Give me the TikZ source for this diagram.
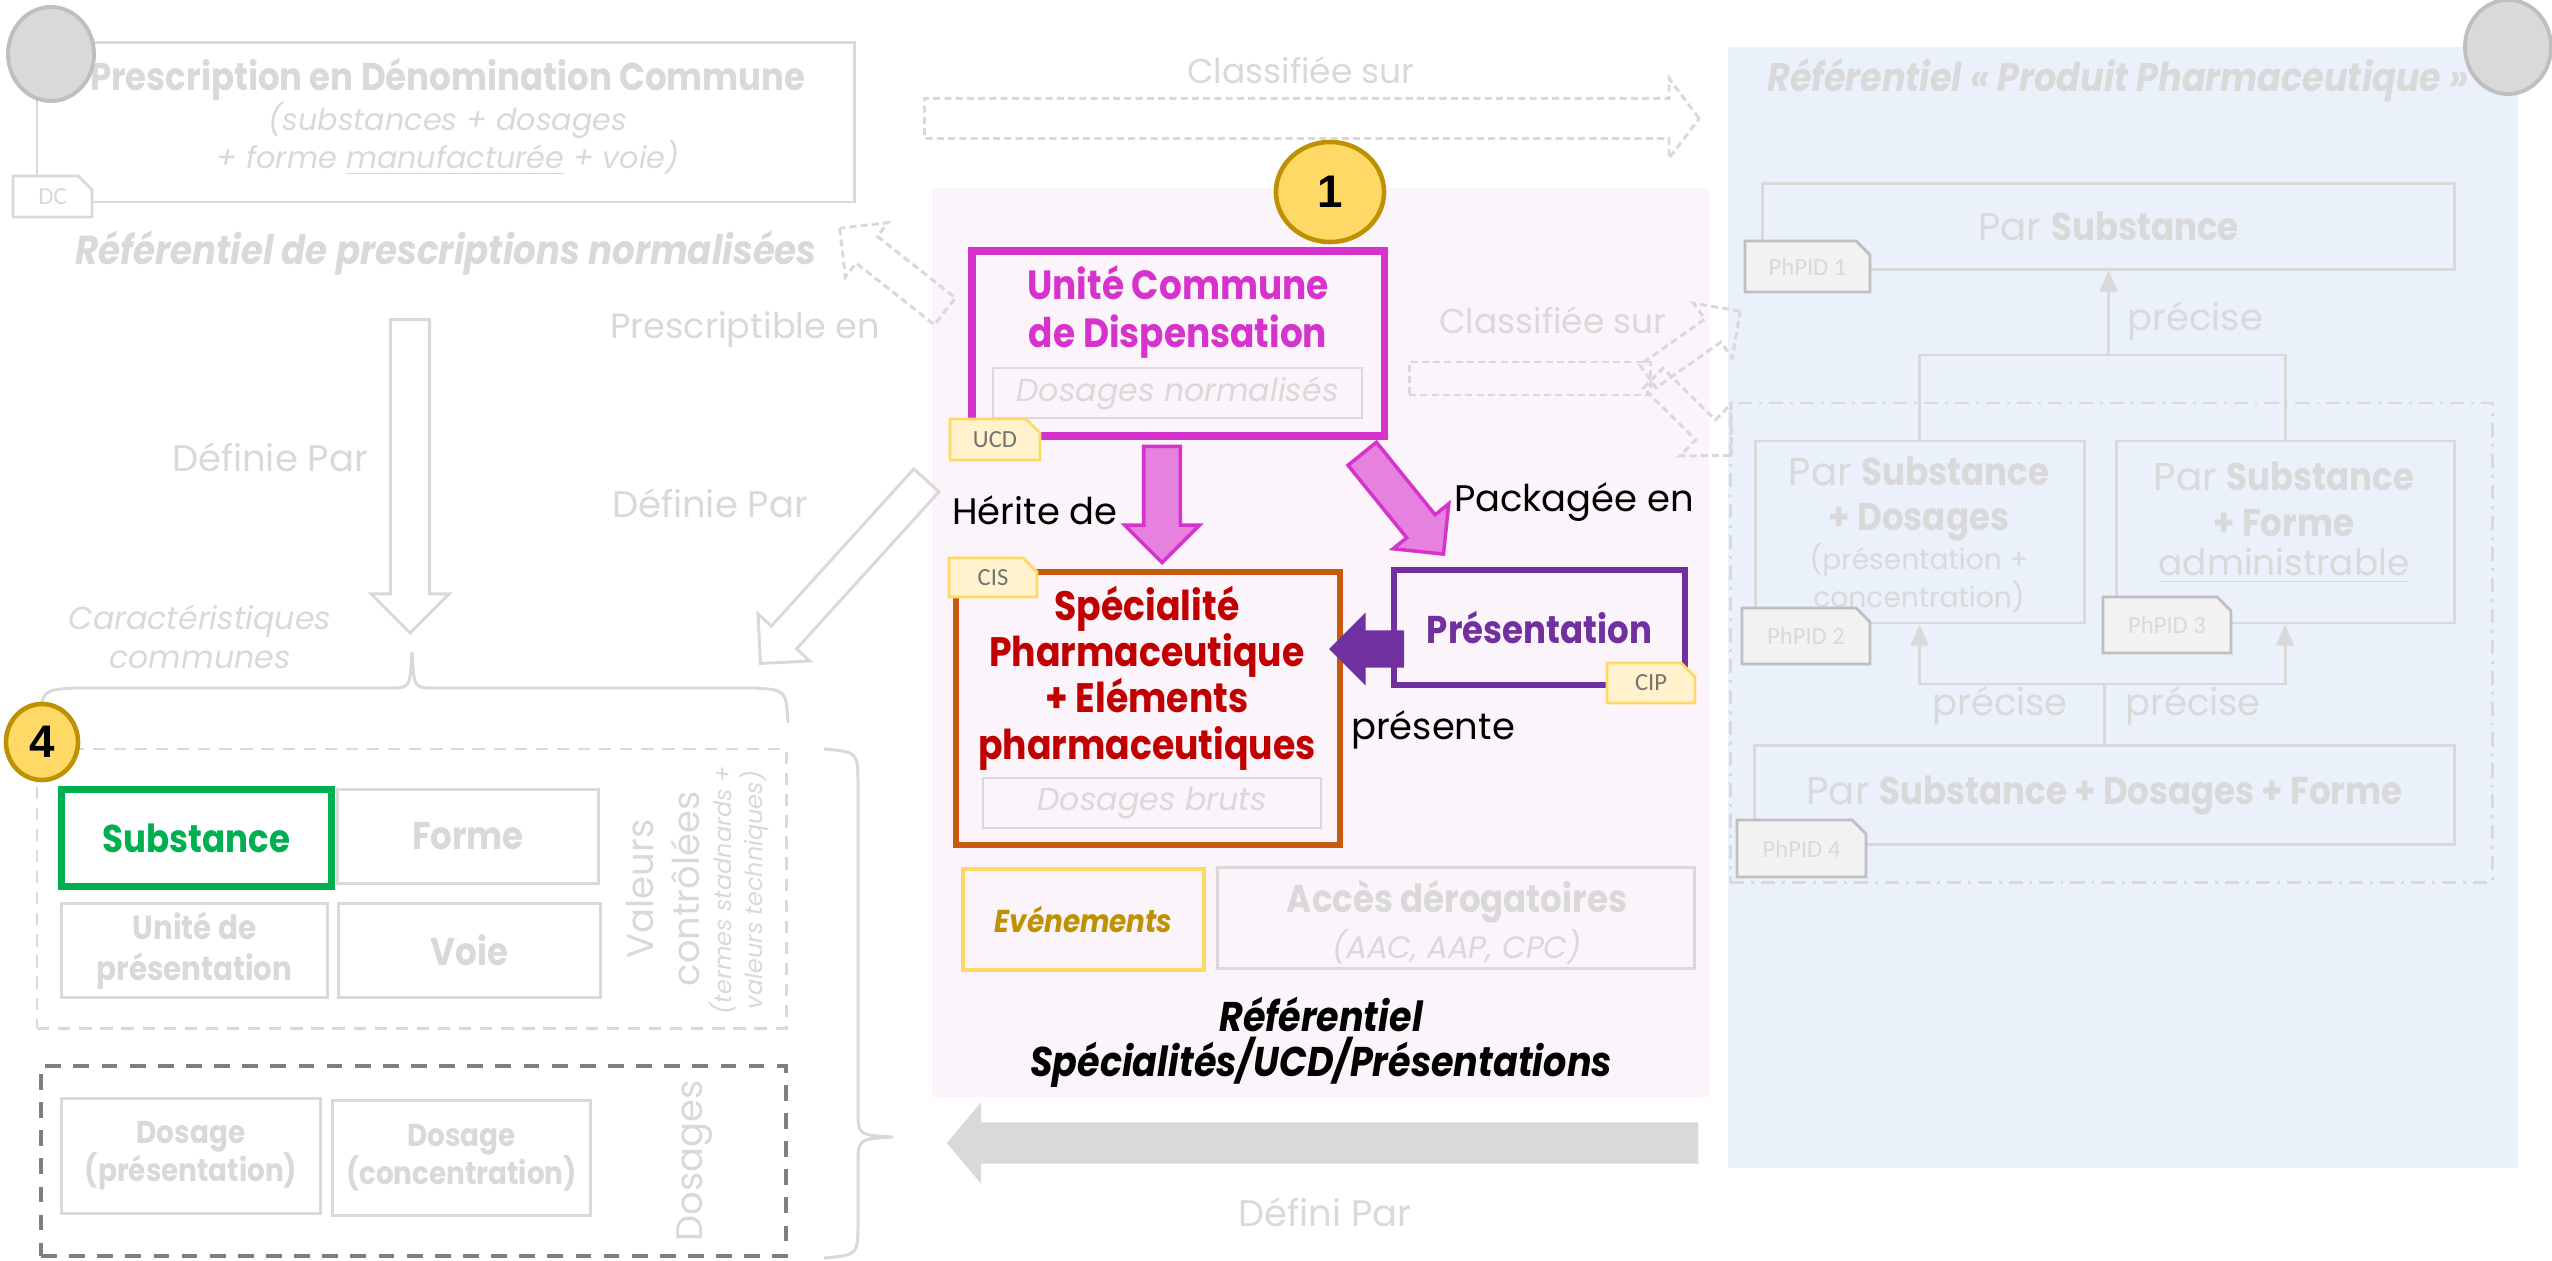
\documentclass[tikz,border=0pt]{standalone}
\usepackage{fontspec}
\setmainfont{Poppins}
\newfontfamily\condf{Poppins}[FakeStretch=0.88]
\newfontfamily\tagf{Carlito}
\newfontfamily\numf{Liberation Sans}
\usepackage{tikz}
\usetikzlibrary{arrows.meta,shapes.arrows,shapes.misc,shapes.geometric,fit}

\definecolor{pale}{HTML}{D9D9D9}
\definecolor{midgray}{HTML}{BFBFBF}
\definecolor{dashgray}{HTML}{7F7F7F}
\definecolor{lightfill}{HTML}{F2F2F2}
\definecolor{magen}{HTML}{D633CC}
\definecolor{magenfill}{HTML}{E681DF}
\definecolor{darkred}{HTML}{C00000}
\definecolor{rust}{HTML}{C55A11}
\definecolor{purp}{HTML}{7030A0}
\definecolor{grn}{HTML}{00B050}
\definecolor{gold}{HTML}{BF9000}
\definecolor{sun}{HTML}{FFD966}
\definecolor{tagfill}{HTML}{FFF2CC}
\definecolor{pinkbg}{HTML}{FCF4FB}
\definecolor{bluebg}{HTML}{EAF1FA}

\tikzset{
  >/.tip={Triangle[length=6pt,width=5pt]},
  palebox/.style={draw=pale, line width=0.85pt, inner sep=0pt},
  conn/.style={draw=pale, line width=0.85pt},
  lbl/.style={inner sep=0pt, text=pale, align=center, font=\fontsize{10.5pt}{13pt}\selectfont},
  boldlbl/.style={inner sep=0pt, align=center, font=\condf\bfseries\fontsize{11pt}{13.6pt}\selectfont},
  reflbl/.style={inner sep=0pt, align=center, font=\condf\bfseries\itshape\fontsize{11.5pt}{12.8pt}\selectfont},
  itlbl/.style={inner sep=0pt, align=center, text=pale, font=\itshape\fontsize{9pt}{11pt}\selectfont},
  yellowtag/.style={chamfered rectangle, chamfered rectangle corners=north east,
    chamfered rectangle xsep=0.07cm, chamfered rectangle ysep=0.07cm, inner sep=0pt,
    draw=sun, fill=tagfill, line width=0.8pt, text=black!55, font=\tagf\fontsize{7pt}{8pt}\selectfont},
  graytag/.style={yellowtag, draw=midgray, fill=lightfill, text=pale},
  grayball/.style={ellipse, inner sep=0pt, draw=midgray, fill=pale, line width=1.1pt,
    minimum width=0.86cm, minimum height=0.94cm},
  numball/.style={ellipse, inner sep=0pt, draw=gold, fill=sun, line width=1.3pt,
    font=\numf\bfseries\fontsize{13pt}{13pt}\selectfont},
  bigarrow/.style={single arrow, anchor=tip, inner xsep=0pt, minimum width=0pt},
  dashedarrow/.style={bigarrow, draw=pale, line width=0.85pt, dash pattern=on 2pt off 1.2pt},
  valbox/.style={draw=pale, line width=0.85pt, dash pattern=on 3.5pt off 2.5pt, inner sep=0pt},
  dosbox/.style={draw=dashgray, line width=1.2pt, dash pattern=on 4.5pt off 3.5pt, inner sep=0pt},
}

\begin{document}
\begin{tikzpicture}[x=0.01cm, y=-0.01cm]
\useasboundingbox (0,0) rectangle (2552,1261);
\fill[white] (0,0) rectangle (2552,1261);
\fill[pinkbg] (932,188) rectangle (1709,1097);
\fill[bluebg] (1728,47) rectangle (2518,1168);

% prescriptions normalisees
\node[palebox, fit={(37,43) (854,202)}] (dc) {};
\node[boldlbl, text=pale] (dctitle) at (448,80) {Prescription en Dénomination Commune};
\node[itlbl, font=\itshape\fontsize{8.6pt}{10.8pt}\selectfont] (dcsub) at (448,139) {(substances + dosages\\+ forme \underline{manufacturée} + voie)};
\node[graytag, fill=white, draw=pale, minimum width=0.79cm, minimum height=0.41cm] (dctag) at (52.5,196.5) {DC};
\node[grayball] (ballL) at (51,54) {};
\node[reflbl, text=pale] (refpres) at (446,253) {Référentiel de prescriptions normalisées};

\node[dashedarrow, rotate=141.7, minimum height=1.34cm, inner ysep=0.155cm, single arrow head extend=0.175cm] (prescarrow) at (838,227) {};
\node[lbl, font=\fontsize{10pt}{12pt}\selectfont] (presclbl) at (745,330) {Prescriptible en};
\node[bigarrow, draw=pale, line width=0.85pt, rotate=-90, minimum height=3.13cm, inner ysep=0.18cm, single arrow head extend=0.195cm] (defarrowA) at (410,635) {};
\node[lbl] (deflblA) at (270,457) {Définie Par};
\node[bigarrow, draw=pale, line width=0.85pt, rotate=227.8, minimum height=2.47cm, inner ysep=0.155cm, single arrow head extend=0.18cm] (defarrowB) at (759,665) {};
\node[lbl] (deflblB) at (710,503) {Définie Par};
\node[itlbl, font=\itshape\fontsize{9pt}{11.2pt}\selectfont] (caract) at (200,637) {Caractéristiques\\communes};
\draw[conn] (40,723) .. controls (42,690) .. (75,688) -- (390,688) .. controls (410,688) .. (412,652)
  .. controls (414,688) .. (434,688) -- (755,688) .. controls (786,690) .. (788,723);

% caracteristiques communes
\node[valbox, fit={(37,749) (786,1028)}] (valeurs) {};
\node[numball, minimum width=0.72cm, minimum height=0.76cm] (ball4) at (42,742) {4};
\node[boldlbl, text=grn, draw=grn, line width=2pt, minimum width=2.69cm, minimum height=0.96cm] (subst) at (196.5,838) {Substance};
\node[boldlbl, text=pale, palebox, minimum width=2.60cm, minimum height=0.93cm] (forme) at (468,836.5) {Forme};
\node[boldlbl, text=pale, palebox, font=\condf\bfseries\fontsize{9.5pt}{11.4pt}\selectfont, minimum width=2.65cm, minimum height=0.93cm] (unite) at (194.5,950.5) {Unité de\\présentation};
\node[boldlbl, text=pale, palebox, minimum width=2.61cm, minimum height=0.93cm] (voie) at (469.5,950.5) {Voie};
\node[lbl, rotate=90] (valtxt) at (663,889) {Valeurs\\contrôlées};
\node[itlbl, rotate=90, font=\itshape\fontsize{6.8pt}{9pt}\selectfont] (valsub) at (739,890) {(termes stadnards +\\valeurs techniques)};

% dosages
\node[dosbox, fit={(41,1066) (786,1256)}] (dosages) {};
\node[boldlbl, text=pale, palebox, font=\condf\bfseries\fontsize{9pt}{10.8pt}\selectfont, minimum width=2.58cm, minimum height=1.14cm] (dospres) at (191,1156) {Dosage\\(présentation)};
\node[boldlbl, text=pale, palebox, font=\condf\bfseries\fontsize{9pt}{10.8pt}\selectfont, minimum width=2.57cm, minimum height=1.14cm] (dosconc) at (461.5,1158) {Dosage\\(concentration)};
\node[lbl, rotate=90] (dostxt) at (695,1161) {Dosages};
\draw[conn] (824,749) .. controls (858,752) .. (858,785) -- (858,1110) .. controls (858,1135) .. (893,1137)
  .. controls (858,1139) .. (858,1165) -- (858,1222) .. controls (858,1255) .. (824,1258);

% referentiel specialites / UCD / presentations
\node[numball, minimum width=1.08cm, minimum height=1.0cm] (ball1) at (1330,192) {1};
\node[draw=magen, line width=2pt, inner sep=0pt, fit={(972,251) (1384,436)}] (ucd) {};
\node[boldlbl, text=magen, font=\condf\bfseries\fontsize{11.6pt}{13.6pt}\selectfont] (ucdtxt) at (1178,312) {Unité Commune\\de Dispensation};
\node[itlbl, palebox, line width=0.6pt, minimum width=3.69cm, minimum height=0.5cm] (ucddos) at (1177.5,393) {Dosages normalisés};
\node[yellowtag, minimum width=0.9cm, minimum height=0.41cm] (ucdtag) at (995,439.5) {UCD};
\node[bigarrow, draw=magen, fill=magenfill, line width=1pt, rotate=-90, minimum height=1.16cm, inner ysep=0.165cm, single arrow head extend=0.19cm] (herarrow) at (1162,565) {};
\node[lbl, text=black] (herlbl) at (1035,510) {Hérite de};
\node[bigarrow, draw=magen, fill=magenfill, line width=1pt, rotate=-51, minimum height=1.29cm, inner ysep=0.165cm, single arrow head extend=0.175cm] (packarrow) at (1445,556) {};
\node[lbl, text=black] (packlbl) at (1574,502) {Packagée en};

\node[draw=rust, line width=1.5pt, inner sep=0pt, fit={(956,572) (1340,845)}] (spec) {};
\node[boldlbl, text=darkred, font=\condf\bfseries\fontsize{11.7pt}{13.2pt}\selectfont] (spectxt) at (1147,678) {Spécialité\\Pharmaceutique\\+ Eléments\\pharmaceutiques};
\node[itlbl, palebox, line width=0.6pt, minimum width=3.38cm, minimum height=0.5cm] (specdos) at (1152,803) {Dosages bruts};
\node[yellowtag, minimum width=0.88cm, minimum height=0.39cm] (cistag) at (993,577.5) {CIS};

\node[boldlbl, text=purp, draw=purp, line width=1.5pt, minimum width=2.91cm, minimum height=1.15cm] (pres) at (1539.5,627.5) {Présentation};
\node[yellowtag, minimum width=0.88cm, minimum height=0.40cm] (ciptag) at (1651,683) {CIP};
\node[bigarrow, fill=purp, rotate=180, minimum height=0.75cm, inner ysep=0.18cm, single arrow head extend=0.18cm] (presarrow) at (1328,649) {};
\node[lbl, text=black] (preslbl) at (1433,730) {présente};

\node[reflbl, text=gold, draw=sun, line width=1.1pt, font=\condf\bfseries\itshape\fontsize{9pt}{11pt}\selectfont, minimum width=2.41cm, minimum height=1.01cm] (events) at (1083.5,919.5) {Evénements};
\node[palebox, fit={(1217,867) (1694,968)}] (acces) {};
\node[boldlbl, text=pale] (accestxt) at (1457,902) {Accès dérogatoires};
\node[itlbl, font=\itshape\fontsize{8.8pt}{10pt}\selectfont] (accessub) at (1457,947) {(AAC, AAP, CPC)};
\node[reflbl, text=black, font=\condf\bfseries\itshape\fontsize{11.8pt}{12.8pt}\selectfont] (reftxt) at (1321,1042) {Référentiel\\Spécialités/UCD/Présentations};

\node[bigarrow, fill=pale, rotate=180, single arrow tip angle=100, minimum height=7.51cm, inner ysep=0.2cm, single arrow head extend=0.2cm] (defarrowC) at (946,1143) {};
\node[lbl] (deflblC) at (1325,1212) {Défini Par};

% classifiee sur
\node[lbl, font=\fontsize{9.8pt}{12pt}\selectfont] (classlblA) at (1301,70) {Classifiée sur};
\node[dashedarrow, single arrow tip angle=106, minimum height=7.74cm, inner ysep=0.185cm, single arrow head extend=0.2cm] (classarrowA) at (1701,118.5) {};
\node[lbl, font=\fontsize{9.8pt}{12pt}\selectfont] (classlblB) at (1553,320) {Classifiée sur};
\node[draw=pale, line width=0.85pt, dash pattern=on 2pt off 1.2pt, inner sep=0pt, fit={(1409,362) (1650,395)}] (classbar) {};
\node[dashedarrow, rotate=35.2, minimum height=1.13cm, inner ysep=0.125cm, single arrow head extend=0.195cm] (classarrowB) at (1742,310) {};
\node[dashedarrow, rotate=-44.6, minimum height=1.10cm, inner ysep=0.125cm, single arrow head extend=0.225cm] (classarrowC) at (1733,457) {};

% referentiel produit pharmaceutique
\node[reflbl, text=pale, font=\condf\bfseries\itshape\fontsize{11.3pt}{13pt}\selectfont] (refprod) at (2118,80) {Référentiel « Produit Pharmaceutique »};
\node[lbl, palebox, font=\fontsize{11pt}{13pt}\selectfont, minimum width=6.91cm, minimum height=0.85cm] (ph1) at (2108.5,226.5) {Par {\condf\bfseries Substance}};
\node[graytag, minimum width=1.25cm, minimum height=0.51cm] (ph1tag) at (1807.5,266.5) {PhPID 1};
\node[draw=pale, line width=0.85pt, dash pattern=on 4pt off 2pt on 0.8pt off 2pt, inner sep=0pt, fit={(1730,403) (2492,882)}] (phgroup) {};
\node[palebox, fit={(1755,441) (2084,623)}] (ph2) {};
\node[lbl, font=\fontsize{11pt}{13pt}\selectfont] (ph2a) at (1919,499) {Par {\condf\bfseries Substance}\\{\condf\bfseries + Dosages}};
\node[lbl, font=\fontsize{8pt}{9.4pt}\selectfont] (ph2b) at (1919,578) {(présentation +\\concentration)};
\node[graytag, minimum width=1.28cm, minimum height=0.56cm] (ph2tag) at (1806,636) {PhPID 2};
\node[palebox, fit={(2116,441) (2454,623)}] (ph3) {};
\node[lbl, font=\fontsize{11pt}{13pt}\selectfont] (ph3a) at (2284,499) {Par {\condf\bfseries Substance}\\{\condf\bfseries + Forme}};
\node[lbl, font=\fontsize{10.2pt}{12pt}\selectfont] (ph3b) at (2284,566) {\underline{administrable}};
\node[graytag, minimum width=1.28cm, minimum height=0.56cm] (ph3tag) at (2167,625) {PhPID 3};
\node[lbl, palebox, font=\fontsize{11pt}{13pt}\selectfont, minimum width=6.99cm, minimum height=0.98cm] (ph4) at (2104.5,795) {Par {\condf\bfseries Substance + Dosages + Forme}};
\node[graytag, minimum width=1.29cm, minimum height=0.57cm] (ph4tag) at (1801.5,848.5) {PhPID 4};

\coordinate (topjoin) at (ph1.south |- 0,355);
\coordinate (botjoin) at (ph4.north |- 0,684);
\draw[conn] (ph2.north) |- (topjoin) -| (ph3.north);
\draw[conn, ->] (topjoin) -- (ph1.south);
\draw[conn] (ph4.north) -- (botjoin);
\draw[conn, ->] (botjoin) -| (ph2.south);
\draw[conn, ->] (botjoin) -| (ph3.south);
\node[lbl, anchor=west] (prectop) at (2127,321) {précise};
\node[lbl] (precleft) at (2000,706) {précise};
\node[lbl] (precright) at (2193,706) {précise};

\node[grayball] (ballR) at (2508,47) {};
\end{tikzpicture}
\end{document}
